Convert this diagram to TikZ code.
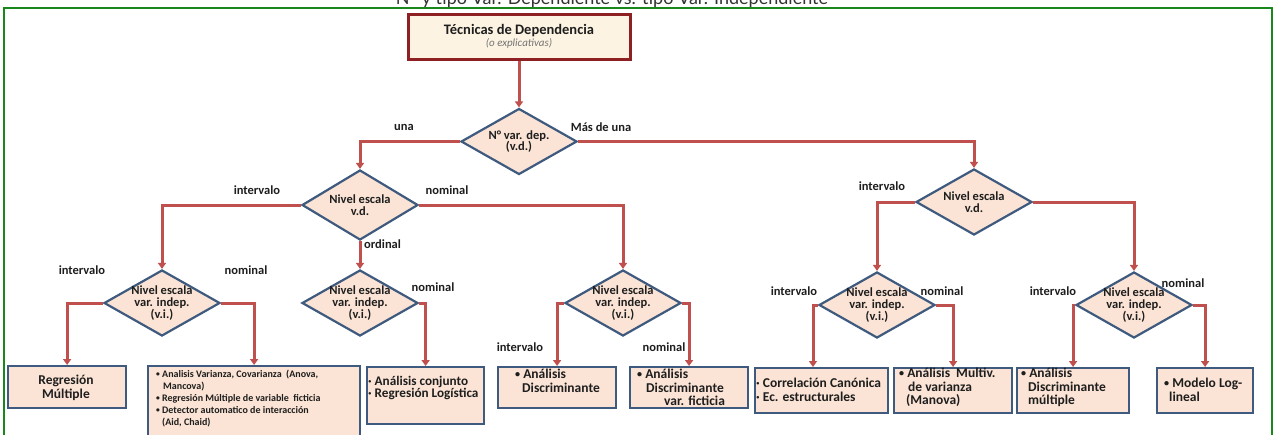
\documentclass[tikz,border=0pt]{standalone}
\usepackage{fontspec}
\setmainfont{Carlito}
\newfontfamily\titlefont{Lato}
\usetikzlibrary{arrows.meta,shapes.geometric,shadows}

\definecolor{conncol}{HTML}{C0504D}
\definecolor{edgeblue}{HTML}{3E5A7E}
\definecolor{peach}{HTML}{FBE4D5}
\definecolor{rootfill}{HTML}{FCF3E2}
\definecolor{rootedge}{HTML}{8E1F22}
\definecolor{framegreen}{HTML}{18881A}
\definecolor{ink}{HTML}{1E1E1E}

% small list bullet
\newcommand{\bul}{\raisebox{0.15ex}{\scalebox{0.75}{•}}}

\begin{document}
\begin{tikzpicture}[x=1pt,y=-1pt,
  conn/.style={draw=conncol, line width=3pt, -{Triangle[length=6pt,width=8pt]}},
  decision/.style={diamond, draw=edgeblue, fill=peach, line width=2.2pt,
    minimum width=116pt, minimum height=66pt, inner sep=0pt},
  dtext/.style={font=\bfseries\fontsize{12.5}{11.8}\selectfont, align=center, text=ink, inner sep=0pt},
  result/.style={draw=edgeblue, fill=peach, line width=2.2pt, inner sep=0pt, anchor=north west},
  rtext/.style={font=\bfseries\fontsize{13.5}{13.5}\selectfont, align=left, text=ink, inner sep=0pt, anchor=north west},
  branch/.style={font=\bfseries\fontsize{12.5}{12}\selectfont, text=ink, inner sep=0pt},
]
\useasboundingbox (0,0) rectangle (1275,434);
\clip (0,0) rectangle (1275,434);
\fill[white] (0,0) rectangle (1275,434);

% heading above the frame and the frame itself
\node[font=\titlefont\fontsize{18}{18}\selectfont, text=black!80, anchor=base, inner sep=0pt]
  (title) at (612,4) {N° y tipo Var. Dependiente vs. tipo Var. Independiente};
\draw[framegreen, line width=2.5pt] (4,445) -- (4,8) -- (1272,8) -- (1272,445);

% root
\node[draw=rootedge, line width=3pt, fill=rootfill, minimum width=222pt, minimum height=45pt,
  drop shadow={shadow xshift=1.5pt, shadow yshift=-1.5pt, fill=black!35}, align=center, text=ink]
  (root) at (519,36.5) {{\bfseries\fontsize{14.5}{15}\selectfont Técnicas de Dependencia}\\[0pt]
  {\itshape\fontsize{11}{11}\selectfont\color{black!55}(o explicativas)}};

% decisions
\node[decision] (d1) at (519,141.5) {};
\node[decision, minimum height=70pt] (d2) at (360,205) {};
\node[decision] (d6) at (974,202) {};
\node[decision] (d3) at (162,303) {};
\node[decision] (d4) at (360,303) {};
\node[decision] (d5) at (623,303) {};
\node[decision] (d7) at (877,305) {};
\node[decision] (d8) at (1134,305) {};

\node[dtext] (d1t) at (d1) {N° var. dep.\\(v.d.)};
\node[dtext] (d2t) at (d2) {Nivel escala\\v.d.};
\node[dtext] (d6t) at (d6) {Nivel escala\\v.d.};
\node[dtext] (d3t) at (d3) {Nivel escala\\var. indep.\\(v.i.)};
\node[dtext] (d4t) at (d4) {Nivel escala\\var. indep.\\(v.i.)};
\node[dtext] (d5t) at (d5) {Nivel escala\\var. indep.\\(v.i.)};
\node[dtext] (d7t) at (d7) {Nivel escala\\var. indep.\\(v.i.)};
\node[dtext] (d8t) at (d8) {Nivel escala\\var. indep.\\(v.i.)};

% results
\node[result, minimum width=118pt, minimum height=42pt] (b1) at (7,365) {};
\node[result, minimum width=212pt, minimum height=80pt] (b2) at (147,365) {};
\node[result, minimum width=117pt, minimum height=57pt] (b3) at (366,366) {};
\node[result, minimum width=118pt, minimum height=41pt] (b4) at (497,366) {};
\node[result, minimum width=118pt, minimum height=41pt] (b5) at (629,366) {};
\node[result, minimum width=133pt, minimum height=45pt] (b6) at (754,367) {};
\node[result, minimum width=118pt, minimum height=45pt] (b7) at (893,367) {};
\node[result, minimum width=112pt, minimum height=45pt] (b8) at (1016,367) {};
\node[result, minimum width=96pt, minimum height=45pt] (b9) at (1156,367) {};

\node[rtext, anchor=center, align=center, font=\bfseries\fontsize{13.5}{13.5}\selectfont] (b1t) at (66,388) {Regresión\\Múltiple};
\node[rtext, font=\bfseries\fontsize{10}{12}\selectfont] (b2t) at (156,370)
  {\bul\ Analisis Varianza, Covarianza~ (Anova,\\\hspace*{7pt}Mancova)\\\bul\ Regresión Múltiple de variable~ ficticia\\\bul\ Detector automatico de interacción\\\hspace*{6pt}(Aid, Chaid)};
\node[rtext, font=\bfseries\fontsize{13.2}{12.5}\selectfont] (b3t) at (368,376) {· Análisis conjunto\\· Regresión Logística};
\node[rtext] (b4t) at (515,369) {\bul\ Análisis\\\hspace*{7pt}Discriminante};
\node[rtext] (b5t) at (637,369) {\bul\ Análisis\\\hspace*{9pt}Discriminante\\\hspace*{27pt}var. ficticia};
\node[rtext] (b6t) at (756,378) {· Correlación Canónica\\· Ec. estructurales};
\node[rtext] (b7t) at (899,368) {\bul\ Análisis~ Multiv.\\\hspace*{9pt}de varianza\\\hspace*{7pt}(Manova)};
\node[rtext] (b8t) at (1021,368) {\bul\ Análisis\\\hspace*{7pt}Discriminante\\\hspace*{7pt}múltiple};
\node[rtext] (b9t) at (1164,378) {\bul\ Modelo Log-\\\hspace*{5pt}lineal};

% connectors
\draw[conn] (root.south) -- (d1.north);
\draw[conn] (d1.west) -| (d2.north);
\draw[conn] (d1.east) -| (d6.north);
\draw[conn] (d2.west) -| (d3.north);
\draw[conn] (d2.south) -- (d4.north);
\draw[conn] (d2.east) -| (d5.north);
\draw[conn] (d3.west) -| (b1.north);
\draw[conn] (d3.east) -| (b2.north);
\draw[conn] (d4.east) -| (b3.north);
\draw[conn] (d5.west) -| (b4.north);
\draw[conn] (d5.east) -| (b5.north);
\draw[conn] (d6.west) -| (d7.north);
\draw[conn] (d6.east) -| (d8.north);
\draw[conn] (d7.west) -| ([xshift=59pt]b6.north west);
\draw[conn] (d7.east) -| (b7.north);
\draw[conn] (d8.west) -| (b8.north);
\draw[conn] (d8.east) -| (b9.north);

% branch labels
\node[branch] (l1) at (404,127) {una};
\node[branch] (l2) at (601,127) {Más de una};
\node[branch] (l3) at (257,190) {intervalo};
\node[branch] (l4) at (447,190) {nominal};
\node[branch, anchor=west] (l5) at (364,244) {ordinal};
\node[branch] (l6) at (82,270) {intervalo};
\node[branch] (l7) at (246,270) {nominal};
\node[branch] (l8) at (433,287) {nominal};
\node[branch] (l9) at (520,347) {intervalo};
\node[branch] (l10) at (664,347) {nominal};
\node[branch] (l11) at (882,186) {intervalo};
\node[branch] (l12) at (794,291) {intervalo};
\node[branch] (l13) at (942,291) {nominal};
\node[branch] (l14) at (1053,291) {intervalo};
\node[branch] (l15) at (1183,283) {nominal};
\end{tikzpicture}
\end{document}
